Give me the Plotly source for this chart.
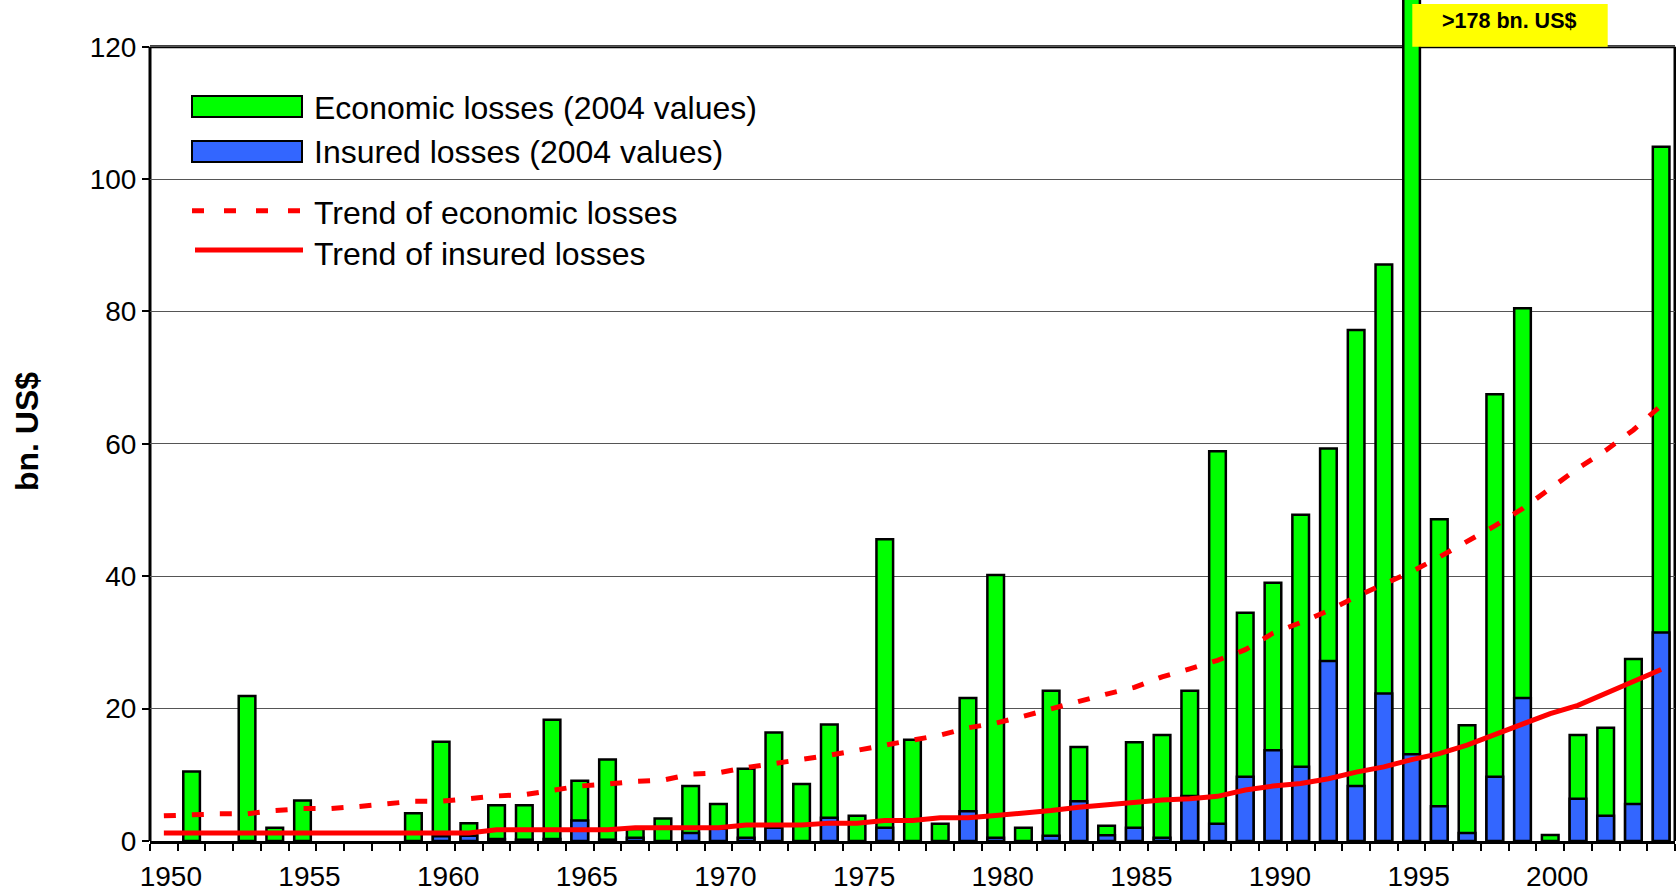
import plotly.graph_objects as go

# ---------------- data ----------------
years = list(range(1950, 2005))

economic = [
    None, 10.5, None, 21.9, 2.0, 6.1, None, None, None, 4.2,      # 1950-1959
    15.0, 2.7, 5.4, 5.4, 18.3, 9.1, 12.3, 1.8, 3.4, 8.3,          # 1960-1969
    5.6, 10.9, 16.4, 8.6, 17.6, 3.8, 45.6, 15.3, 2.6, 21.6,       # 1970-1979
    40.2, 2.0, 22.7, 14.2, 2.3, 14.9, 16.0, 22.7, 58.9, 34.5,     # 1980-1989
    39.0, 49.3, 59.3, 77.2, 87.1, 178.0, 48.6, 17.5, 67.5, 80.5,  # 1990-1999
    0.9, 16.0, 17.1, 27.5, 104.9,                                 # 2000-2004
]

insured = [
    None, None, None, None, None, None, None, None, None, None,   # 1950-1959
    0.7, 0.8, 0.3, 0.2, 0.3, 3.1, 0.2, 0.5, None, 1.2,            # 1960-1969
    1.9, 0.5, 2.0, None, 3.5, None, 2.0, None, None, 4.5,         # 1970-1979
    0.5, None, 0.8, 6.0, 0.85, 2.0, 0.5, 6.8, 2.6, 9.7,           # 1980-1989
    13.7, 11.2, 27.2, 8.3, 22.3, 13.1, 5.25, 1.2, 9.7, 21.6,      # 1990-1999
    None, 6.4, 3.8, 5.6, 31.5,                                    # 2000-2004
]

trend_economic = [
    3.8, 4.0, 4.1, 4.1, 4.6, 4.9, 4.9, 5.2, 5.55, 6.0,            # 1950-1959
    6.0, 6.4, 6.8, 7.0, 7.7, 8.3, 8.6, 9.0, 9.2, 10.1,            # 1960-1969
    10.3, 11.1, 11.7, 12.3, 12.95, 13.7, 14.5, 15.2, 16.0, 17.1,  # 1970-1979
    17.8, 18.85, 20.0, 21.1, 22.2, 23.2, 24.8, 26.0, 27.3, 28.9,  # 1980-1989
    31.4, 33.0, 34.8, 36.9, 38.8, 40.7, 42.9, 45.2, 47.6, 50.2,   # 1990-1999
    53.3, 56.3, 59.0, 62.1, 65.8,                                 # 2000-2004
]

trend_insured = [
    1.2, 1.2, 1.2, 1.2, 1.2, 1.2, 1.2, 1.2, 1.2, 1.2,             # 1950-1959
    1.2, 1.2, 1.7, 1.7, 1.7, 1.7, 1.7, 2.0, 2.0, 2.0,             # 1960-1969
    2.0, 2.4, 2.4, 2.4, 2.7, 2.7, 3.1, 3.1, 3.5, 3.5,             # 1970-1979
    3.85, 4.2, 4.6, 5.1, 5.5, 5.9, 6.2, 6.4, 6.75, 7.7,           # 1980-1989
    8.3, 8.7, 9.4, 10.4, 11.2, 12.3, 13.2, 14.5, 16.1, 17.7,      # 1990-1999
    19.25, 20.5, 22.3, 24.0, 25.9,                                # 2000-2004
]

y_tick_values = [0, 20, 40, 60, 80, 100, 120]
x_tick_values = [1950, 1955, 1960, 1965, 1970, 1975, 1980, 1985, 1990, 1995, 2000]
x_tick_labels = [str(v) for v in x_tick_values]

legend_labels = [
    "Economic losses (2004 values)",
    "Insured losses (2004 values)",
    "Trend of economic losses",
    "Trend of insured losses",
]
overflow_note = ">178 bn. US$"
y_title = "bn. US$"

# ---------------- styling / geometry ----------------
FONT = "Liberation Sans, Arial, sans-serif"
GREEN = "#00FF00"
BLUE = "#3366FF"
RED = "#FF0000"
YELLOW = "#FFFF00"

W, H = 1676, 892
ML, MR, MT, MB = 150, 1, 0, 51
PLOT_W = W - ML - MR
PLOT_H = H - MT - MB
Y120_PX = 46.7                      # pixel row of the 120 line
Y_MAX = 120 / (1 - (Y120_PX - MT) / PLOT_H)


def fx(px):
    return (px - ML) / PLOT_W


def fy(py):
    return (PLOT_H - (py - MT)) / PLOT_H


fig = go.Figure()

fig.add_trace(go.Bar(
    x=years, y=economic, width=0.6, name=legend_labels[0],
    marker=dict(color=GREEN, line=dict(color="black", width=2.5)),
    showlegend=False,
))
fig.add_trace(go.Bar(
    x=years, y=insured, width=0.6, name=legend_labels[1],
    marker=dict(color=BLUE, line=dict(color="black", width=2.5)),
    showlegend=False,
))
fig.add_trace(go.Scatter(
    x=years, y=trend_economic, mode="lines", name=legend_labels[2],
    line=dict(color=RED, width=5, dash="12px,16px"),
    showlegend=False,
))
fig.add_trace(go.Scatter(
    x=years, y=trend_insured, mode="lines", name=legend_labels[3],
    line=dict(color=RED, width=5),
    showlegend=False,
))

y120 = 120 / Y_MAX
shapes = [
    # plot-area frame (left, top, right) up to the 120 line
    dict(type="line", xref="paper", yref="paper", x0=0, x1=0, y0=0, y1=y120,
         line=dict(color="black", width=3), layer="between"),
    dict(type="line", xref="paper", yref="paper", x0=0, x1=1, y0=y120, y1=y120,
         line=dict(color="black", width=3), layer="between"),
    dict(type="line", xref="paper", yref="paper", x0=1, x1=1, y0=0, y1=y120,
         line=dict(color="black", width=3), layer="between"),
    # legend swatches
    dict(type="rect", xref="paper", yref="paper", x0=fx(192), x1=fx(302), y0=fy(117), y1=fy(96),
         fillcolor=GREEN, line=dict(color="black", width=2), layer="above"),
    dict(type="rect", xref="paper", yref="paper", x0=fx(192), x1=fx(302), y0=fy(162), y1=fy(141),
         fillcolor=BLUE, line=dict(color="black", width=2), layer="above"),
    dict(type="line", xref="paper", yref="paper", x0=fx(192), x1=fx(302), y0=fy(210.7), y1=fy(210.7),
         line=dict(color=RED, width=5, dash="12px,20px"), layer="above"),
    dict(type="line", xref="paper", yref="paper", x0=fx(195), x1=fx(303), y0=fy(250), y1=fy(250),
         line=dict(color=RED, width=5), layer="above"),
    # yellow overflow box
    dict(type="rect", xref="paper", yref="paper", x0=fx(1412.3), x1=fx(1607.7), y0=fy(46.7), y1=fy(4),
         fillcolor=YELLOW, line=dict(width=0), layer="above"),
]

annotations = []
for label, cy in zip(legend_labels, [108.3, 152.0, 213.0, 253.8]):
    annotations.append(dict(
        xref="paper", yref="paper", x=fx(312), y=fy(cy), text=label,
        showarrow=False, xanchor="left", yanchor="middle",
        font=dict(family=FONT, size=32, color="black"),
    ))
annotations.append(dict(
    xref="paper", yref="paper", x=fx(1509), y=fy(21.3), text="<b>" + overflow_note + "</b>",
    showarrow=False, xanchor="center", yanchor="middle",
    font=dict(family=FONT, size=21.5, color="black"),
))
annotations.append(dict(
    xref="paper", yref="paper", x=fx(27), y=fy(432), text="<b>" + y_title + "</b>",
    showarrow=False, xanchor="center", yanchor="middle", textangle=-90,
    font=dict(family=FONT, size=32, color="black"),
))

fig.update_layout(
    width=W, height=H,
    margin=dict(l=ML, r=MR, t=MT, b=MB, autoexpand=False),
    paper_bgcolor="white", plot_bgcolor="white",
    barmode="overlay",
    showlegend=False,
    font=dict(family=FONT, color="black"),
    shapes=shapes,
    annotations=annotations,
    xaxis=dict(
        range=[1949.5, 2004.5],
        tickmode="array", tickvals=x_tick_values, ticktext=x_tick_labels,
        ticks="outside", ticklen=8, tickcolor="rgba(0,0,0,0)",
        ticklabelshift=7,
        tickfont=dict(family=FONT, size=28, color="black"),
        showline=True, linecolor="black", linewidth=3,
        showgrid=False, zeroline=False,
        minor=dict(tick0=1949.5, dtick=1, ticks="outside", ticklen=7,
                   tickwidth=1.5, tickcolor="black", showgrid=False),
    ),
    yaxis=dict(
        range=[0, Y_MAX],
        tickmode="array", tickvals=y_tick_values,
        ticks="outside", ticklen=7, tickwidth=1.5, tickcolor="black",
        tickfont=dict(family=FONT, size=28, color="black"),
        showline=False, showgrid=True, gridcolor="#555555", gridwidth=1,
        zeroline=False,
    ),
)

fig.write_html(
    "out.html",
    config={"displayModeBar": False},
    post_script="document.body.style.margin='0';document.body.style.overflow='hidden';",
)
